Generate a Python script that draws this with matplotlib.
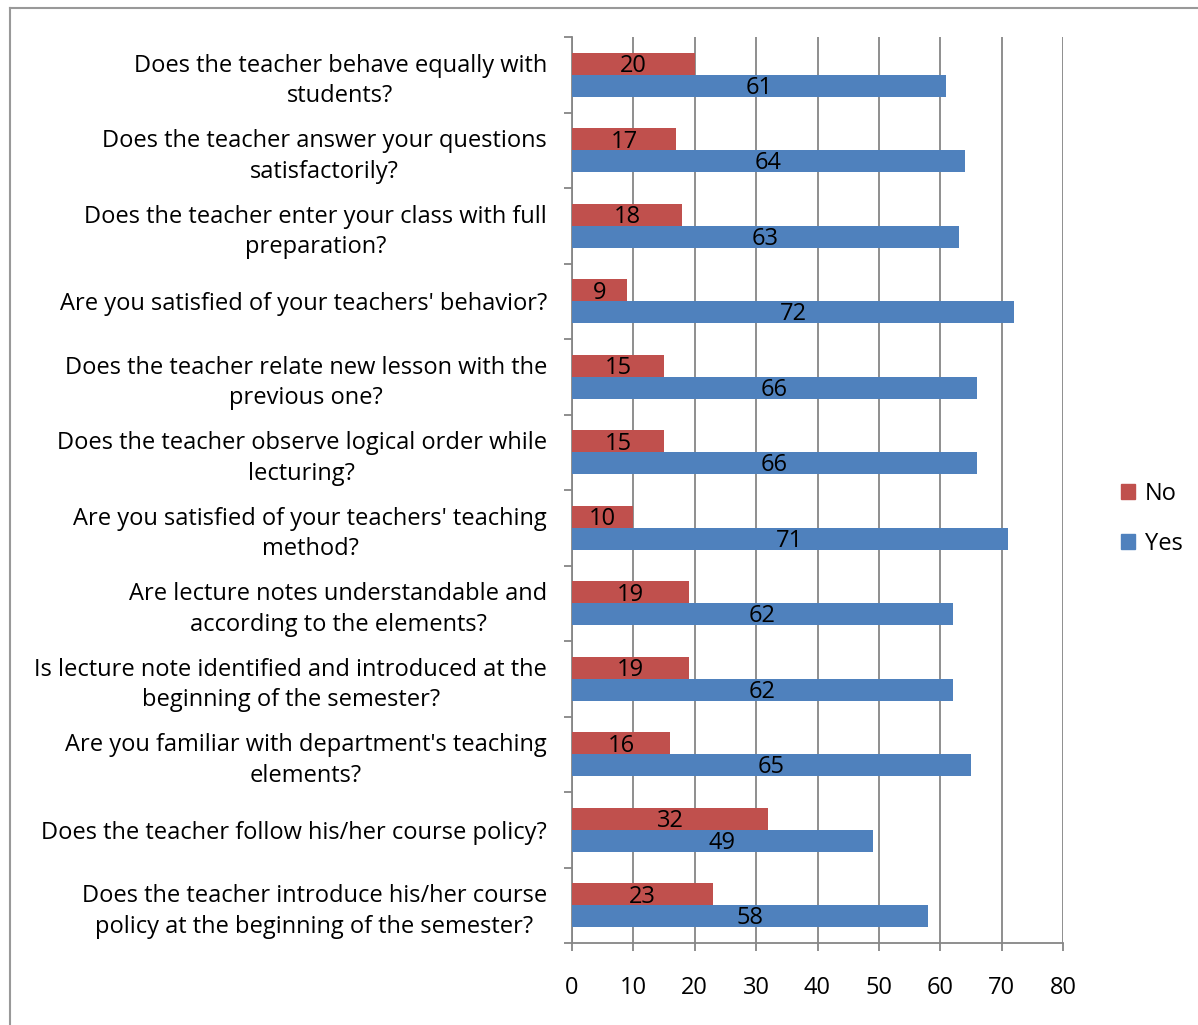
import matplotlib.pyplot as plt
import numpy as np
from matplotlib.lines import Line2D
from matplotlib.patches import Patch

questions = [
    "Does the teacher behave equally with\nstudents?",
    "Does the teacher answer your questions\nsatisfactorily?",
    "Does the teacher enter your class with full\npreparation?",
    "Are you satisfied of your teachers' behavior?",
    "Does the teacher relate new lesson with the\nprevious one?",
    "Does the teacher observe logical order while\nlecturing?",
    "Are you satisfied of your teachers' teaching\nmethod?",
    "Are lecture notes understandable and\naccording to the elements?",
    "Is lecture note identified and introduced at the\nbeginning of the semester?",
    "Are you familiar with department's teaching\nelements?",
    "Does the teacher follow his/her course policy?",
    "Does the teacher introduce his/her course\npolicy at the beginning of the semester?",
]
no_vals = [20, 17, 18, 9, 15, 15, 10, 19, 19, 16, 32, 23]
yes_vals = [61, 64, 63, 72, 66, 66, 71, 62, 62, 65, 49, 58]

red = "#C0504D"
blue = "#4F81BD"
grid_col = "#868686"
fs = 17

plt.rcParams['font.family'] = ['Open Sans', 'DejaVu Sans']

fig = plt.figure(figsize=(11.98, 10.25), dpi=100)
ax = fig.add_axes([572/1198, 1-943/1025, (1063-572)/1198, (943-37)/1025])

y = np.arange(len(questions))
h = 0.29
ax.barh(y - h/2, no_vals, height=h, color=red, label="No", zorder=3)
ax.barh(y + h/2, yes_vals, height=h, color=blue, label="Yes", zorder=3)

for i in range(len(questions)):
    ax.text(no_vals[i]/2, y[i] - h/2 + 0.03, str(no_vals[i]), ha="center", va="center", fontsize=fs, zorder=4)
    ax.text(yes_vals[i]/2, y[i] + h/2 + 0.03, str(yes_vals[i]), ha="center", va="center", fontsize=fs, zorder=4)

ax.set_xlim(0, 80)
ax.set_ylim(len(questions) - 0.5, -0.5)
ax.set_xticks(range(0, 81, 10))
ax.tick_params(axis="x", length=6, width=1.3, color=grid_col, pad=18, labelsize=fs)
ax.set_yticks(y)
ax.set_yticklabels(questions, multialignment="center", fontsize=fs, linespacing=1.35)
ax.tick_params(axis="y", which="major", length=0, pad=18)
ax.set_yticks(np.arange(-0.5, len(questions), 1), minor=True)
ax.tick_params(axis="y", which="minor", length=6, width=1.3, color=grid_col)

ax.grid(axis="x", color=grid_col, linewidth=1.3, zorder=0)
for s in ["top", "right"]:
    ax.spines[s].set_visible(False)
for s in ["left", "bottom"]:
    ax.spines[s].set_color(grid_col)
    ax.spines[s].set_linewidth(1.3)

handles = [Patch(color=red, label="No"), Patch(color=blue, label="Yes")]
fig.legend(handles=handles, loc="center left", bbox_to_anchor=(1100/1198, 1-519/1025),
           frameon=False, fontsize=fs, handlelength=0.6, handleheight=0.6,
           handletextpad=0.4, labelspacing=1.1)

# outer chart border
fig.add_artist(Line2D([10/1198, 10/1198], [0, 1-8/1025], color="#999999", linewidth=1.5))
fig.add_artist(Line2D([10/1198, 1], [1-8/1025, 1-8/1025], color="#999999", linewidth=1.5))

fig.savefig("out.png", dpi=100)
